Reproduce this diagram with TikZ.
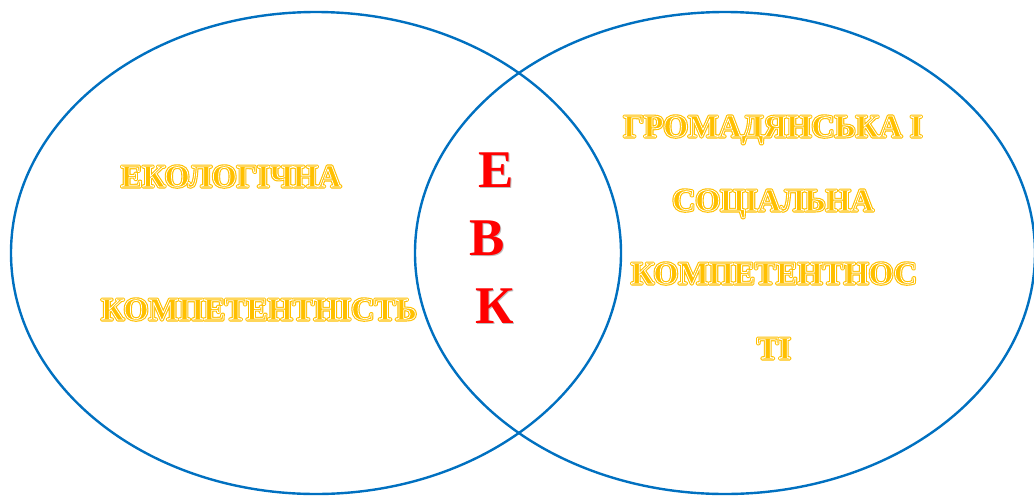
\documentclass[tikz,border=0pt]{standalone}
\usepackage{fontspec}
\setmainfont{Liberation Serif}
\definecolor{gold}{HTML}{FFC000}
\definecolor{ringblue}{HTML}{0070C0}
\definecolor{evkred}{HTML}{FF0000}
\newcommand\goldoutline[1]{%
  \rlap{\color{gold}\special{pdf:literal direct 2 Tr 3.0 w 1 j}#1\special{pdf:literal direct 0 Tr 1 w}}%
  {\color{white}\special{pdf:literal direct 1 Tr 0.75 w 1 j}#1\special{pdf:literal direct 0 Tr 1 w}}}
\newcommand\shadowed[1]{%
  \rlap{\kern1.2pt\raisebox{-1.2pt}{\color{black!25}#1}}{\color{evkred}#1}}
\tikzset{
  ring/.style={draw=ringblue, line width=2.4pt},
  goldlbl/.style={anchor=base, inner sep=0pt, font=\fontsize{32}{38}\selectfont\bfseries},
  redlbl/.style={anchor=base, inner sep=0pt, font=\fontsize{53}{60}\selectfont\bfseries},
}
\begin{document}
\begin{tikzpicture}[x=1pt,y=-1pt]
\useasboundingbox (0,0) rectangle (1034,496);
\draw[ring] (316,253) ellipse [x radius=305, y radius=241];
\draw[ring] (725,253) ellipse [x radius=310, y radius=241];
\node[goldlbl] (eko) at (231,187) {\goldoutline{ЕКОЛОГІЧНА}};
\node[goldlbl] (komp) at (259,320) {\goldoutline{КОМПЕТЕНТНІСТЬ}};
\node[goldlbl] (hrom) at (773,137) {\goldoutline{ГРОМАДЯНСЬКА І}};
\node[goldlbl] (sots) at (773,211) {\goldoutline{СОЦІАЛЬНА}};
\node[goldlbl] (komp2) at (774,284) {\goldoutline{КОМПЕТЕНТНОС}};
\node[goldlbl] (ti) at (774,359) {\goldoutline{ТІ}};
\node[redlbl] (e) at (496,187) {\shadowed{Е}};
\node[redlbl] (v) at (487,255) {\shadowed{В}};
\node[redlbl] (k) at (495,323) {\shadowed{К}};
\end{tikzpicture}
\end{document}
